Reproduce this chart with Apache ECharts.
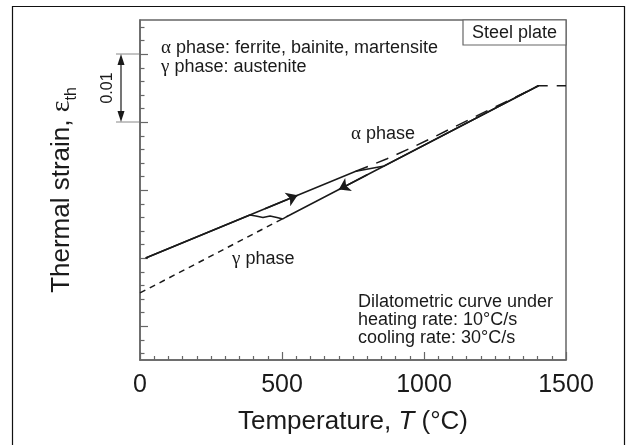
<!DOCTYPE html>
<html>
<head>
<meta charset="utf-8">
<script src="https://cdn.jsdelivr.net/npm/echarts@6/dist/echarts.min.js"></script>
<style>
  html, body { margin: 0; padding: 0; background: #fff; }
  #chart { width: 633px; height: 445px; }
</style>
</head>
<body>
<div id="chart"></div>
<script>
// Dilatometric curve of a steel plate: temperature (°C) vs thermal strain
const heatTemp   = [20, 555, 760, 860, 1403];
const heatStrain = [0, 0.00922, 0.01275, 0.01354, 0.02533];

const coolTemp   = [1403, 521, 503, 482, 458, 433, 408, 387, 20];
const coolStrain = [0.02533, 0.00618, 0.00574, 0.00596, 0.00618, 0.00596, 0.00618, 0.00632, 0];

// Extrapolated single-phase lines
const alphaTemp   = [760, 870, 950, 1040, 1200, 1300, 1403, 1500];
const alphaStrain = [0.01275, 0.0146, 0.0161, 0.0179, 0.0212, 0.0232, 0.02533, 0.02533];
const gammaTemp   = [0, 521];
const gammaStrain = [-0.00514, 0.00618];

// Direction arrows: [tail, head] temperatures along each branch
const arrowHeat = [440, 555];
const arrowCool = [800, 700];

// Strain scale bar
const scaleBar = [0.02, 0.03];
const scaleBarLabel = '0.01';

// Axis ticks
const tempRange   = [0, 1500];
const strainRange = [-0.015, 0.035];
const yMajorTicks = [-0.01, 0, 0.01, 0.02, 0.03];
const yMinorTicks = [-0.014, -0.012, -0.008, -0.006, -0.004, -0.002,
                     0.002, 0.004, 0.006, 0.008, 0.012, 0.014, 0.016, 0.018,
                     0.022, 0.024, 0.026, 0.028, 0.032, 0.034];

const SANS = '"Liberation Sans", Arial, Helvetica, sans-serif';
const SERIF = '"Liberation Serif", "Times New Roman", serif';
const INK = '#1a1a1a';
const FRAME = '#666';

const pairs = (xs, ys) => xs.map((x, i) => [x, ys[i]]);
// position on a polyline branch at temperature t (branch may run either way)
function strainAt(xs, ys, t) {
  for (let i = 0; i < xs.length - 1; i++) {
    const a = xs[i], b = xs[i + 1];
    if ((t - a) * (t - b) <= 0 && a !== b) {
      return ys[i] + (ys[i + 1] - ys[i]) * (t - a) / (b - a);
    }
  }
  return ys[ys.length - 1];
}

const chart = echarts.init(document.getElementById('chart'), null, { renderer: 'canvas' });

const curveStyle = { color: INK, width: 1.5 };

const option = {
  animation: false,
  backgroundColor: '#fff',
  grid: {
    left: 140, right: 67, top: 20, bottom: 85,
    show: true, borderColor: FRAME, borderWidth: 1.5, backgroundColor: 'transparent'
  },
  xAxis: {
    type: 'value',
    min: tempRange[0], max: tempRange[1], interval: 500,
    name: 'Temperature, {i|T} (°C)',
    nameLocation: 'middle',
    nameGap: 49,
    nameTextStyle: {
      fontFamily: SANS, fontSize: 26, color: INK,
      rich: { i: { fontFamily: SANS, fontSize: 26, fontStyle: 'italic', color: INK } }
    },
    axisLine: { show: true, onZero: false, lineStyle: { color: FRAME, width: 1.5 } },
    axisTick: { show: true, inside: true, length: 8, lineStyle: { color: FRAME, width: 1.2 } },
    minorTick: { show: true, splitNumber: 10, length: 4, lineStyle: { color: FRAME, width: 1.2 } },
    axisLabel: { fontFamily: SANS, fontSize: 25, color: INK, margin: 13,
                 formatter: v => String(v) },
    splitLine: { show: false },
    minorSplitLine: { show: false }
  },
  yAxis: {
    type: 'value',
    min: strainRange[0], max: strainRange[1],
    position: 'left',
    name: '{a|Thermal strain, }{e|ε}{s|th}',
    nameLocation: 'middle',
    nameRotate: 90,
    nameGap: 60,
    nameTextStyle: {
      color: INK,
      rich: {
        a: { fontFamily: SANS, fontSize: 26, lineHeight: 36, color: INK },
        e: { fontFamily: SERIF, fontSize: 28, lineHeight: 36, color: INK },
        s: { fontFamily: SANS, fontSize: 16, verticalAlign: 'bottom', color: INK }
      }
    },
    axisLine: { show: true, onZero: false, lineStyle: { color: FRAME, width: 1.5 } },
    axisTick: { show: true, inside: true, length: 8, customValues: yMajorTicks,
                lineStyle: { color: FRAME, width: 1.2 } },
    axisLabel: { show: false },
    splitLine: { show: false }
  },
  series: [
    {
      name: 'heating', type: 'line', data: pairs(heatTemp, heatStrain),
      showSymbol: false, symbol: 'none', lineStyle: curveStyle, z: 3
    },
    {
      name: 'cooling', type: 'line', data: pairs(coolTemp, coolStrain),
      showSymbol: false, symbol: 'none', lineStyle: curveStyle, z: 3
    },
    {
      name: 'α phase', type: 'line', data: pairs(alphaTemp, alphaStrain),
      showSymbol: false, symbol: 'none',
      lineStyle: { color: INK, width: 1.5, type: [13, 9] }, z: 2
    },
    {
      name: 'γ phase', type: 'line', data: pairs(gammaTemp, gammaStrain),
      showSymbol: false, symbol: 'none',
      lineStyle: { color: INK, width: 1.5, type: [6, 5] }, z: 2
    },
    {
      name: 'direction', type: 'lines', coordinateSystem: 'cartesian2d',
      symbol: ['none', 'arrow'], symbolSize: 11,
      lineStyle: { color: INK, width: 1.5, opacity: 1 },
      data: [
        { coords: arrowHeat.map(t => [t, strainAt(heatTemp, heatStrain, t)]) },
        { coords: arrowCool.map(t => [t, strainAt(coolTemp, coolStrain, t)]) }
      ],
      z: 4
    }
  ]
};

chart.setOption(option);

// Annotations, placed once the axes are laid out
const yPx = v => chart.convertToPixel({ yAxisIndex: 0 }, v);
const yHi = yPx(scaleBar[1]);
const yLo = yPx(scaleBar[0]);
const xAxisPx = chart.convertToPixel({ xAxisIndex: 0 }, tempRange[0]);
const barX = 121;

const txt = (text, x, y, extra) => ({
  type: 'text', x, y, silent: true, z: 20,
  style: Object.assign({
    text, fontFamily: SANS, fontSize: 18, fill: INK,
    align: 'left', verticalAlign: 'middle',
    rich: { g: { fontFamily: SERIF, fontSize: 19, fill: INK } }
  }, extra || {})
});

// short inward ticks between the major strain ticks
const minorTickMarks = yMinorTicks.map(v => ({
  type: 'line', silent: true, z: 5,
  shape: { x1: xAxisPx, y1: Math.round(yPx(v)) + 0.5, x2: xAxisPx + 4.5, y2: Math.round(yPx(v)) + 0.5 },
  style: { stroke: FRAME, lineWidth: 1.2 }
}));

chart.setOption({
  graphic: [
    // outer figure frame
    { type: 'rect', shape: { x: 12.5, y: 6.5, width: 612, height: 460 },
      style: { fill: 'none', stroke: '#111', lineWidth: 1.2 }, silent: true },

    ...minorTickMarks,

    // phase definitions
    txt('{g|α} phase: ferrite, bainite, martensite', 161, 48),
    txt('{g|γ} phase: austenite', 161, 67),

    // specimen box
    { type: 'rect', shape: { x: 463, y: 20, width: 103, height: 25 },
      style: { fill: '#fff', stroke: FRAME, lineWidth: 1.2 }, silent: true, z: 10 },
    txt('Steel plate', 514.5, 33, { align: 'center' }),

    // curve labels
    txt('{g|α} phase', 351, 134),
    txt('{g|γ} phase', 232, 259),

    // test conditions
    txt('Dilatometric curve under', 358, 302),
    txt('heating rate: 10°C/s', 358, 320),
    txt('cooling rate: 30°C/s', 358, 338),

    // scale bar for 0.01 strain
    { type: 'line', shape: { x1: 116, y1: yHi, x2: xAxisPx, y2: yHi },
      style: { stroke: '#888', lineWidth: 1 }, silent: true },
    { type: 'line', shape: { x1: 116, y1: yLo, x2: xAxisPx, y2: yLo },
      style: { stroke: '#888', lineWidth: 1 }, silent: true },
    { type: 'line', shape: { x1: barX, y1: yHi + 8, x2: barX, y2: yLo - 8 },
      style: { stroke: INK, lineWidth: 1.2 }, silent: true },
    { type: 'polygon', shape: { points: [[barX, yHi], [barX - 3.5, yHi + 11], [barX + 3.5, yHi + 11]] },
      style: { fill: INK }, silent: true },
    { type: 'polygon', shape: { points: [[barX, yLo], [barX - 3.5, yLo - 11], [barX + 3.5, yLo - 11]] },
      style: { fill: INK }, silent: true },
    { type: 'text', x: 107.5, y: (yHi + yLo) / 2, rotation: Math.PI / 2, silent: true,
      style: { text: scaleBarLabel, fontFamily: SANS, fontSize: 16, fill: INK,
               align: 'center', verticalAlign: 'middle' } }
  ]
});
</script>
</body>
</html>
